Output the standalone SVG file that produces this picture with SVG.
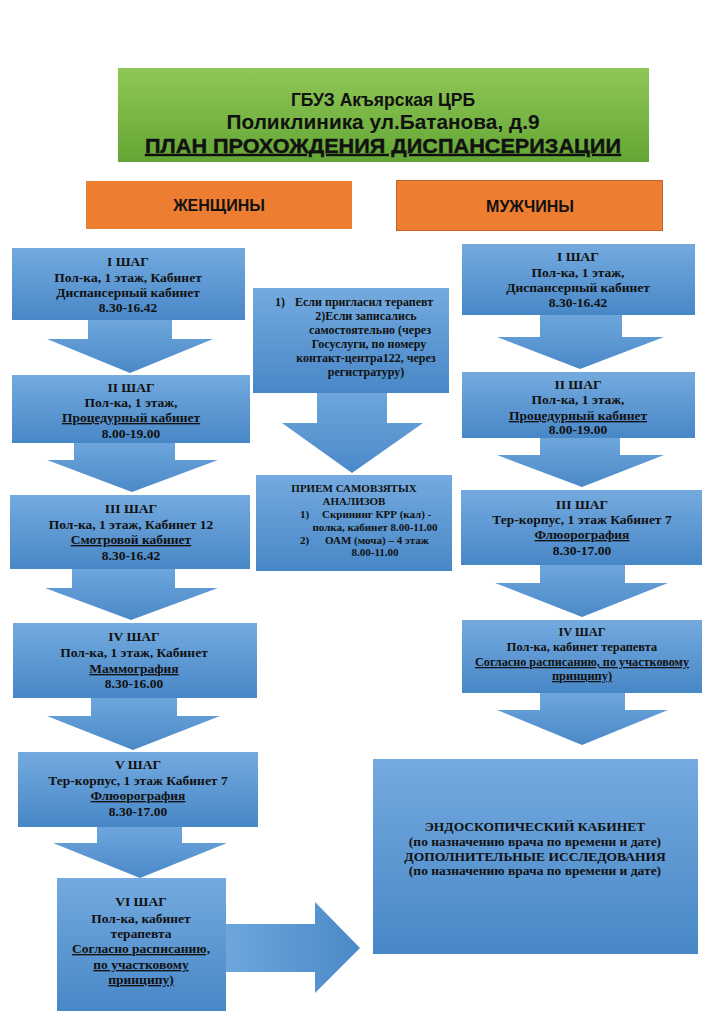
<svg xmlns="http://www.w3.org/2000/svg" width="723" height="1023" viewBox="0 0 723 1023">
<defs>
<linearGradient id="gGreen" x1="0" y1="0" x2="0" y2="1"><stop offset="0" stop-color="#8fc757"/><stop offset="1" stop-color="#64a635"/></linearGradient>
<linearGradient id="gBlue" x1="0" y1="0" x2="0" y2="1"><stop offset="0" stop-color="#74aadf"/><stop offset="1" stop-color="#4887c7"/></linearGradient>
<linearGradient id="gArrow" x1="0" y1="0" x2="0" y2="1"><stop offset="0" stop-color="#6ea6dc"/><stop offset="1" stop-color="#4a89c8"/></linearGradient>
<linearGradient id="gArrowH" x1="0" y1="0" x2="1" y2="0"><stop offset="0" stop-color="#6ea6dc"/><stop offset="1" stop-color="#4a89c8"/></linearGradient>
</defs>
<style>
.box{fill:url(#gBlue);}
.arr{fill:url(#gArrow);}
.t{font-family:"Liberation Serif","Times New Roman",serif;font-weight:bold;font-size:13.5px;fill:#111;text-anchor:middle;}
.f12{font-size:12px;}
.f124{font-size:12.4px;}
.f11{font-size:11px;}
.s{text-anchor:start;}
.u{text-decoration:underline;}
.h{font-family:"Liberation Sans",Arial,sans-serif;font-weight:bold;fill:#111;text-anchor:middle;}
</style>
<rect width="723" height="1023" fill="#ffffff"/>

<g id="title">
<rect x="118" y="68" width="531" height="94" fill="url(#gGreen)"/>
<text class="h" x="383" y="106" font-size="17.5">ГБУЗ Акъярская ЦРБ</text>
<text class="h" x="383" y="129" font-size="20" textLength="313" lengthAdjust="spacingAndGlyphs">Поликлиника ул.Батанова, д.9</text>
<text class="h u" x="383" y="153" font-size="20" font-weight="normal" stroke="#111" stroke-width="0.4" textLength="476" lengthAdjust="spacingAndGlyphs">ПЛАН ПРОХОЖДЕНИЯ ДИСПАНСЕРИЗАЦИИ</text>
</g>

<g id="women">
<rect x="86" y="181" width="266" height="48" fill="#ed7d31"/>
<text class="h" x="219" y="211" font-size="16">ЖЕНЩИНЫ</text>
</g>
<g id="men">
<rect x="396.5" y="180.5" width="266" height="50" fill="#ed7d31" stroke="#c4662a" stroke-width="1"/>
<text class="h" x="530" y="212" font-size="16">МУЖЧИНЫ</text>
</g>

<g id="connectors">
<polygon class="arr" points="88,320 172,320 172,339 213,339 130,373 47,339 88,339"/>
<polygon class="arr" points="74,443 175,443 175,460 218,460 132,492 47,460 74,460"/>
<polygon class="arr" points="72,569 175,569 175,588 218,588 131,620 45,588 72,588"/>
<polygon class="arr" points="91,698 177,698 177,716 220,716 133,750 47,716 91,716"/>
<polygon class="arr" points="97,827 182,827 182,843 227,843 140,878 53,843 97,843"/>
<polygon fill="url(#gArrowH)" points="226,924 315,924 315,902 360,948 315,993 315,972 226,972"/>
<polygon class="arr" points="317,393 387,393 387,423 423,423 352,473 282,423 317,423"/>
<polygon class="arr" points="540,315 622,315 622,337 664,337 580,369 497,337 540,337"/>
<polygon class="arr" points="540,438 620,438 620,455 664,455 582,487 497,455 540,455"/>
<polygon class="arr" points="540,565 625,565 625,583 668,583 582,617 495,583 540,583"/>
<polygon class="arr" points="540,693 625,693 625,710 668,710 582,745 497,710 540,710"/>
</g>

<g id="w1">
<rect class="box" x="12" y="248" width="233" height="72"/>
<text class="t" x="128" y="266">I ШАГ</text>
<text class="t" x="128" y="282">Пол-ка, 1 этаж, Кабинет</text>
<text class="t" x="128" y="297">Диспансерный кабинет</text>
<text class="t" x="128" y="312">8.30-16.42</text>
</g>
<g id="w2">
<rect class="box" x="12" y="375" width="238" height="68"/>
<text class="t" x="131" y="392">II ШАГ</text>
<text class="t" x="131" y="407">Пол-ка, 1 этаж,</text>
<text class="t u" x="131" y="422">Процедурный кабинет</text>
<text class="t" x="131" y="438">8.00-19.00</text>
</g>
<g id="w3">
<rect class="box" x="10" y="495" width="240" height="74"/>
<text class="t" x="131" y="513">III ШАГ</text>
<text class="t" x="131" y="529">Пол-ка, 1 этаж, Кабинет 12</text>
<text class="t u" x="131" y="544">Смотровой кабинет</text>
<text class="t" x="131" y="560">8.30-16.42</text>
</g>
<g id="w4">
<rect class="box" x="13" y="623" width="244" height="75"/>
<text class="t" x="134" y="641">IV ШАГ</text>
<text class="t" x="134" y="657">Пол-ка, 1 этаж, Кабинет</text>
<text class="t u" x="134" y="673">Маммография</text>
<text class="t" x="134" y="688">8.30-16.00</text>
</g>
<g id="w5">
<rect class="box" x="18" y="752" width="240" height="75"/>
<text class="t" x="138" y="769">V ШАГ</text>
<text class="t" x="138" y="785">Тер-корпус, 1 этаж Кабинет 7</text>
<text class="t u" x="138" y="800">Флюорография</text>
<text class="t" x="138" y="816">8.30-17.00</text>
</g>
<g id="w6">
<rect class="box" x="57" y="878" width="169" height="133"/>
<text class="t" x="141" y="906">VI ШАГ</text>
<text class="t" x="141" y="923">Пол-ка, кабинет</text>
<text class="t" x="141" y="938">терапевта</text>
<text class="t u" x="141" y="953">Согласно расписанию,</text>
<text class="t u" x="141" y="969">по участковому</text>
<text class="t u" x="141" y="984">принципу)</text>
</g>

<g id="mid1">
<rect class="box" x="253" y="288" width="196" height="105"/>
<text class="t f12 s" x="275" y="306">1)</text>
<text class="t f12 s" x="295" y="306">Если пригласил терапевт</text>
<text class="t f12" x="366" y="320">2)Если записались</text>
<text class="t f12" x="370" y="334">самостоятельно (через</text>
<text class="t f12" x="369" y="348">Госуслуги, по номеру</text>
<text class="t f12" x="366" y="362">контакт-центра122, через</text>
<text class="t f12" x="366" y="376">регистратуру)</text>
</g>
<g id="mid2">
<rect class="box" x="256" y="475" width="196" height="96"/>
<text class="t f11" x="354" y="492">ПРИЕМ САМОВЗЯТЫХ</text>
<text class="t f11" x="354" y="505">АНАЛИЗОВ</text>
<text class="t f11 s" x="300" y="518">1)</text>
<text class="t f11 s" x="322" y="518">Скрининг КРР (кал) -</text>
<text class="t f11" x="375" y="531">полка, кабинет 8.00-11.00</text>
<text class="t f11 s" x="300" y="544">2)</text>
<text class="t f11 s" x="325" y="544">ОАМ (моча) – 4 этаж</text>
<text class="t f11" x="375" y="556">8.00-11.00</text>
</g>

<g id="m1">
<rect class="box" x="462" y="244" width="233" height="71"/>
<text class="t" x="578" y="261">I ШАГ</text>
<text class="t" x="578" y="277">Пол-ка, 1 этаж,</text>
<text class="t" x="578" y="292">Диспансерный кабинет</text>
<text class="t" x="578" y="307">8.30-16.42</text>
</g>
<g id="m2">
<rect class="box" x="462" y="372" width="233" height="66"/>
<text class="t" x="578" y="389">II ШАГ</text>
<text class="t" x="578" y="404">Пол-ка, 1 этаж,</text>
<text class="t u" x="578" y="420">Процедурный кабинет</text>
<text class="t" x="578" y="434">8.00-19.00</text>
</g>
<g id="m3">
<rect class="box" x="461" y="490" width="241" height="75"/>
<text class="t" x="582" y="509">III ШАГ</text>
<text class="t" x="582" y="524">Тер-корпус, 1 этаж Кабинет 7</text>
<text class="t u" x="582" y="539">Флюорография</text>
<text class="t" x="582" y="555">8.30-17.00</text>
</g>
<g id="m4">
<rect class="box" x="462" y="620" width="240" height="73"/>
<text class="t f124" x="582" y="636">IV ШАГ</text>
<text class="t f124" x="582" y="651">Пол-ка, кабинет терапевта</text>
<text class="t f124 u" x="582" y="666" textLength="214" lengthAdjust="spacingAndGlyphs">Согласно расписанию, по участковому</text>
<text class="t f124 u" x="582" y="680">принципу)</text>
</g>

<g id="endo">
<rect class="box" x="373" y="759" width="325" height="195"/>
<text class="t" x="535" y="831">ЭНДОСКОПИЧЕСКИЙ КАБИНЕТ</text>
<text class="t" x="535" y="846">(по назначению врача по времени и дате)</text>
<text class="t" x="535" y="861">ДОПОЛНИТЕЛЬНЫЕ ИССЛЕДОВАНИЯ</text>
<text class="t" x="535" y="875">(по назначению врача по времени и дате)</text>
</g>
</svg>
